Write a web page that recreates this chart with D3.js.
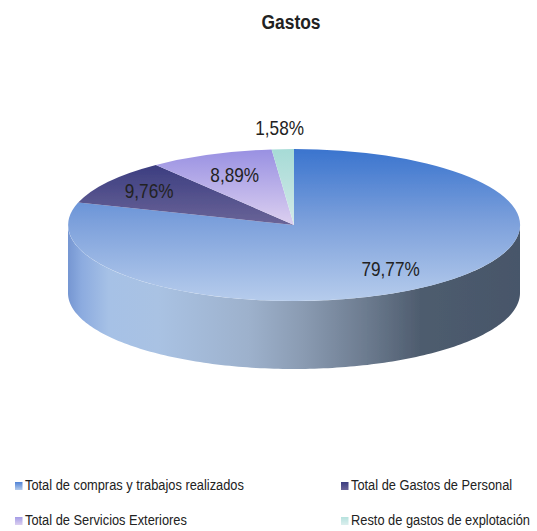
<!DOCTYPE html>
<html>
<head>
<meta charset="utf-8">
<script src="https://cdn.jsdelivr.net/npm/d3@7"></script>
<style>
  html, body { margin: 0; background: #fff; }
  text { font-family: "Liberation Sans", Arial, sans-serif; fill: #222; }
</style>
</head>
<body>
<div id="chart"></div>
<script>
const title = "Gastos";
const categories = [
  "Total de compras y trabajos realizados",
  "Total de Gastos de Personal",
  "Total de Servicios Exteriores",
  "Resto de gastos de explotación"
];
const values = [79.77, 9.76, 8.89, 1.58];

const width = 537, height = 531;
const cx = 294, cy = 225, rx = 226, ry = 76, depth = 68;

const svg = d3.select("#chart").append("svg")
  .attr("width", width)
  .attr("height", height)
  .style("display", "block");

const defs = svg.append("defs");

function gradient(id, x1, y1, x2, y2, stops, units) {
  const g = defs.append("linearGradient")
    .attr("id", id)
    .attr("gradientUnits", units || "userSpaceOnUse")
    .attr("x1", x1).attr("y1", y1).attr("x2", x2).attr("y2", y2);
  stops.forEach(s => g.append("stop").attr("offset", s[0]).attr("stop-color", s[1]));
}

// top face gradients live in unit circle space
gradient("top0", 0, -1, 0, 1, [[0, "#3a74ce"], [0.5, "#7fa2dc"], [1, "#b6ccec"]]);
gradient("top1", 0, -0.8, 0, 0, [[0, "#3b3d80"], [1, "#6a6498"]]);
gradient("top2", 0, -1, 0, 0, [[0, "#9890e2"], [1, "#dcd0f0"]]);
gradient("top3", 0, -1, 0, 0, [[0, "#a6dbd6"], [1, "#d4eae8"]]);

gradient("side", cx - rx, 0, cx + rx, 0, [
  [0, "#7596d2"], [0.03, "#8cabdf"], [0.09, "#a6c1e6"], [0.2, "#a9c2e3"], [0.4, "#9db1cc"],
  [0.52, "#8a9bb2"], [0.66, "#6c7b8f"], [0.78, "#4e5c6e"], [1, "#47566a"]
]);

// legend swatches
gradient("sw0", 0, 0, 0, 1, [[0, "#4f82d6"], [1, "#b6ccec"]], "objectBoundingBox");
gradient("sw1", 0, 0, 0, 1, [[0, "#3b3d80"], [1, "#6a6498"]], "objectBoundingBox");
gradient("sw2", 0, 0, 0, 1, [[0, "#a49ce6"], [1, "#dcd0f0"]], "objectBoundingBox");
gradient("sw3", 0, 0, 0, 1, [[0, "#b6e2de"], [1, "#dcefee"]], "objectBoundingBox");

defs.append("filter").attr("id", "soft")
  .append("feGaussianBlur").attr("stdDeviation", 0.6);

const pie = d3.pie().sort(null).startAngle(0).endAngle(2 * Math.PI);
const arcs = pie(values);
const arc = d3.arc().innerRadius(0).outerRadius(1);

const disc = svg.append("g").attr("filter", "url(#soft)");

// visible rim, front half of the ellipse
const side = d3.area()
  .x(a => cx + rx * Math.sin(a))
  .y0(a => cy - ry * Math.cos(a))
  .y1(a => cy - ry * Math.cos(a) + depth);

disc.append("path")
  .attr("d", side(d3.range(Math.PI / 2, 3 * Math.PI / 2 + 0.01, 0.02)))
  .attr("fill", "url(#side)");

disc.append("g")
  .attr("transform", `translate(${cx},${cy}) scale(${rx},${ry})`)
  .selectAll("path")
  .data(arcs)
  .enter().append("path")
  .attr("d", arc)
  .attr("fill", (d, i) => `url(#top${i})`);

// data labels, placed along each slice's middle angle
// the original type is a tall narrow grotesque, so the text gets squeezed in x
const labelRadius = [0.72, 0.78, 0.71, 1.28];
svg.append("g").selectAll("text")
  .data(arcs)
  .enter().append("text")
  .attr("transform", (d, i) => {
    const mid = (d.startAngle + d.endAngle) / 2;
    const x = cx + rx * labelRadius[i] * Math.sin(mid);
    const y = cy - ry * labelRadius[i] * Math.cos(mid);
    return `translate(${x},${y}) scale(0.86,1)`;
  })
  .attr("dy", "0.35em")
  .attr("text-anchor", "middle")
  .style("font-size", "20px")
  .text(d => d.value.toFixed(2).replace(".", ",") + "%");

svg.append("text")
  .attr("transform", "translate(291,29) scale(0.83,1)")
  .attr("text-anchor", "middle")
  .style("font-size", "21px")
  .style("font-weight", "bold")
  .text(title);

// legend, two columns and two rows
const legendX = d3.scaleOrdinal().domain([0, 1]).range([15, 341]);
const legendY = d3.scaleOrdinal().domain([0, 1]).range([485, 520]);

const legend = svg.append("g").selectAll("g")
  .data(categories)
  .enter().append("g")
  .attr("transform", (d, i) => `translate(${legendX(i % 2)},${legendY(Math.floor(i / 2))})`);

legend.append("rect")
  .attr("y", -3)
  .attr("width", 7.5)
  .attr("height", 8)
  .attr("fill", (d, i) => `url(#sw${i})`);

legend.append("text")
  .attr("transform", "translate(10,0) scale(0.885,1)")
  .attr("dy", "0.32em")
  .style("font-size", "14.5px")
  .text(d => d);
</script>
</body>
</html>
